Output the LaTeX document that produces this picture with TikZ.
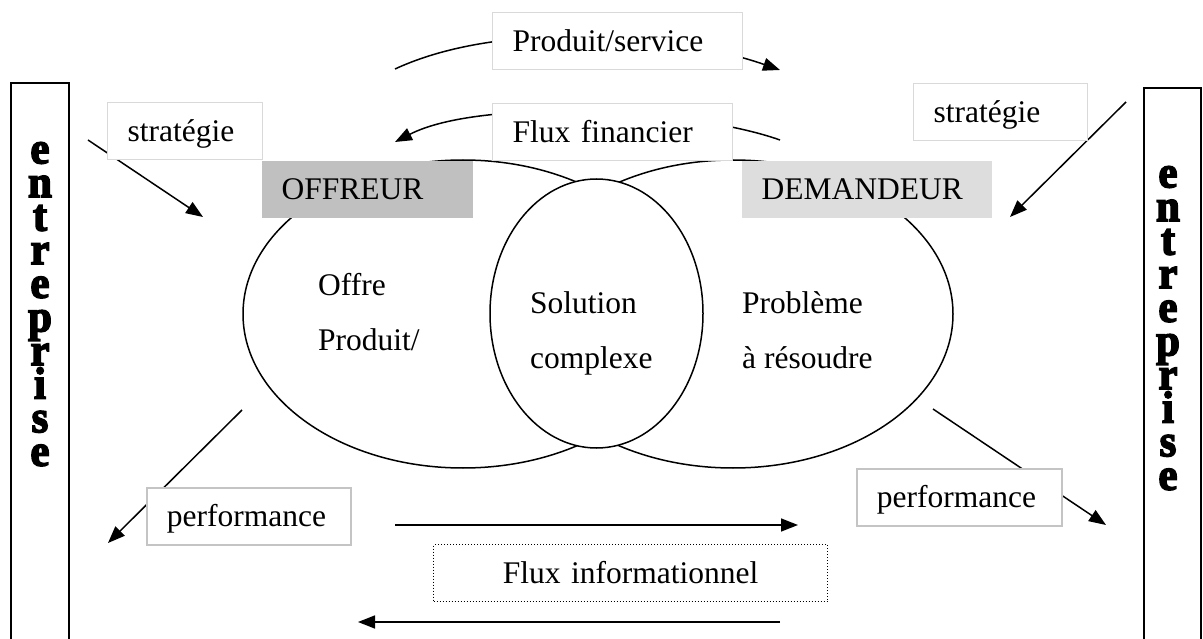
\documentclass[tikz,border=0pt]{standalone}
\usepackage{fontspec}
\setmainfont{Liberation Serif}
\newfontfamily\heavy[FakeBold=3.5,FakeStretch=0.95]{Liberation Serif}
\usetikzlibrary{arrows.meta,shapes.geometric}
\newcommand\mainsz{\fontsize{31.5}{36}\selectfont}
\newcommand\barsz{\fontsize{45}{33.6}\selectfont\heavy\bfseries\lineskiplimit=-100pt\relax}
\definecolor{offgray}{HTML}{C0C0C0}
\definecolor{demgray}{HTML}{DDDDDD}
\definecolor{boxline}{HTML}{D9D9D9}
\definecolor{perfline}{HTML}{C4C4C4}
\begin{document}
\begin{tikzpicture}[x=1pt,y=-1pt,
  lbl/.style={draw=boxline, line width=1.2pt, fill=white, inner xsep=20pt, inner ysep=10pt,
    text height=28.5pt, text depth=8.5pt, align=left, anchor=north west, font=\mainsz},
  perfbox/.style={lbl, draw=perfline, line width=1.8pt},
  infobox/.style={lbl, draw=black, line width=1pt, dotted, align=center},
  rolebox/.style={lbl, draw=none},
  txt/.style={anchor=base west, inner sep=0pt, font=\mainsz},
  letters/.style={anchor=north, inner sep=0pt, align=center, font=\barsz},
  blob/.style={ellipse, draw, line width=1.5pt, inner sep=0pt},
  arr/.style={line width=1.5pt, -{Triangle[length=17pt,width=13pt]}},
  bar/.style={line width=1.5pt}]
\useasboundingbox (0,0) rectangle (1203,639);

% side bars
\draw[bar] (11,83) rectangle (69,670);
\draw[bar] (1144,88) rectangle (1201,670);
\node[letters] (entL) at (40,142) {e\\n\\t\\r\\e\\p\\r\\i\\s\\e};
\node[letters] (entR) at (1168,166) {e\\n\\t\\r\\e\\p\\r\\i\\s\\e};

% ellipses
\node[blob, minimum width=440pt, minimum height=308pt] (offre) at (463,314) {};
\node[blob, minimum width=440pt, minimum height=308pt] (demande) at (733,314) {};
\node[blob, fill=white, minimum width=213pt, minimum height=269pt] (sol) at (596.5,313.5) {};

\node[txt] (t1) at (318,295) {Offre};
\node[txt] (t2) at (318,350) {Produit/};
\node[txt] (t3) at (530,313) {Solution};
\node[txt] (t4) at (530,368) {complexe};
\node[txt] (t5) at (742,313) {Problème};
\node[txt] (t6) at (742,368) {à résoudre};

% arrow end points
\coordinate (psA) at (395,69);
\coordinate (psB) at (780,70);
\coordinate (ffA) at (780,140);
\coordinate (ffB) at (395,142);
\coordinate (slA) at (88,140);
\coordinate (slB) at (203,217);
\coordinate (srA) at (1126,102);
\coordinate (srB) at (1010,217);
\coordinate (plA) at (242,410);
\coordinate (plB) at (108,543);
\coordinate (prA) at (933,409);
\coordinate (prB) at (1106,525);
\coordinate (irA) at (395,525);
\coordinate (irB) at (798,525);
\coordinate (ilA) at (780,622);
\coordinate (ilB) at (358,622);

\draw[arr] (psA) .. controls (505,18) and (680,35) .. (psB);
\draw[arr] (ffA) .. controls (690,108) and (480,98) .. (ffB);
\draw[arr] (slA) -- (slB);
\draw[arr] (srA) -- (srB);
\draw[arr] (plA) -- (plB);
\draw[arr] (prA) -- (prB);
\draw[arr] (irA) -- (irB);
\draw[arr] (ilA) -- (ilB);

% labelled boxes
\node[rolebox, fill=offgray, text width=171pt] (offreur) at (261,160) {OFFREUR};
\node[rolebox, fill=demgray, text width=210pt] (demandeur) at (741,160) {DEMANDEUR};
\node[lbl, text width=210pt] (prod) at (492,12) {Produit/service};
\node[lbl, text width=200pt] (fin) at (492,103) {Flux financier};
\node[lbl, text width=115pt] (stratL) at (107,102) {stratégie};
\node[lbl, text width=134pt] (stratR) at (913,83) {stratégie};
\node[perfbox, text width=164pt] (perfL) at (146,487) {performance};
\node[perfbox, text width=165pt] (perfR) at (856,468) {performance};
\node[infobox, text width=354pt] (info) at (433,544) {Flux informationnel};
\end{tikzpicture}
\end{document}
